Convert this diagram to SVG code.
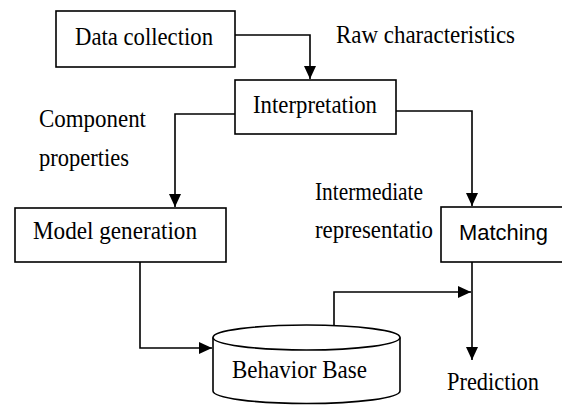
<svg xmlns="http://www.w3.org/2000/svg" width="562" height="405" viewBox="0 0 562 405">
<style>
.box{fill:#fff;stroke:#000;stroke-width:1.6}
.ln{fill:none;stroke:#000;stroke-width:1.6}
.t{font-family:"Liberation Serif","Times New Roman",serif;font-size:26px;fill:#000}
.s{font-family:"Liberation Sans",Arial,sans-serif;font-size:22px;fill:#000}
</style>
<defs>
<marker id="ah" markerUnits="userSpaceOnUse" markerWidth="14" markerHeight="12" refX="13" refY="6" orient="auto">
<path d="M0,0 L13,6 L0,12 Z" fill="#000"/>
</marker>
</defs>
<rect width="562" height="405" fill="#fff"/>
<g id="connectors">
<path class="ln" d="M235,35 H310 V79" marker-end="url(#ah)"/>
<path class="ln" d="M235,114 H175 V207" marker-end="url(#ah)"/>
<path class="ln" d="M396,111 H472 V206" marker-end="url(#ah)"/>
<path class="ln" d="M140,262 V348 H212" marker-end="url(#ah)"/>
<path class="ln" d="M334,330 V292 H471" marker-end="url(#ah)"/>
<path class="ln" d="M472,262 V360" marker-end="url(#ah)"/>
</g>
<g id="data-collection">
<rect class="box" x="56" y="11" width="179" height="56"/>
<text class="t" x="75" y="45" textLength="138" lengthAdjust="spacingAndGlyphs">Data collection</text>
</g>
<g id="raw-label">
<text class="t" x="336" y="43" textLength="179" lengthAdjust="spacingAndGlyphs">Raw characteristics</text>
</g>
<g id="interpretation">
<rect class="box" x="235" y="80" width="161" height="54"/>
<text class="t" x="253" y="113" textLength="124" lengthAdjust="spacingAndGlyphs">Interpretation</text>
</g>
<g id="component-label">
<text class="t" x="39" y="127" textLength="107" lengthAdjust="spacingAndGlyphs">Component</text>
<text class="t" x="39" y="166" textLength="90" lengthAdjust="spacingAndGlyphs">properties</text>
</g>
<g id="model-generation">
<rect class="box" x="15" y="208" width="211" height="54"/>
<text class="t" x="33" y="239" textLength="164" lengthAdjust="spacingAndGlyphs">Model generation</text>
</g>
<g id="intermediate-label">
<text class="t" x="315" y="200" textLength="108" lengthAdjust="spacingAndGlyphs">Intermediate</text>
<text class="t" x="315" y="238" textLength="118" lengthAdjust="spacingAndGlyphs">representatio</text>
</g>
<g id="matching">
<rect class="box" x="441" y="207" width="125" height="55"/>
<text class="s" x="459" y="240" textLength="89" lengthAdjust="spacingAndGlyphs">Matching</text>
</g>
<g id="behavior-base">
<path class="box" d="M213,337.5 A93.5,12.5 0 0,1 400,337.5 L400,391 A93.5,12.5 0 0,1 213,391 Z"/>
<path class="ln" d="M213,337.5 A93.5,12.5 0 0,0 400,337.5"/>
<text class="t" x="232" y="378" textLength="135" lengthAdjust="spacingAndGlyphs">Behavior Base</text>
</g>
<g id="prediction-label">
<text class="t" x="447" y="390" textLength="92" lengthAdjust="spacingAndGlyphs">Prediction</text>
</g>
</svg>
